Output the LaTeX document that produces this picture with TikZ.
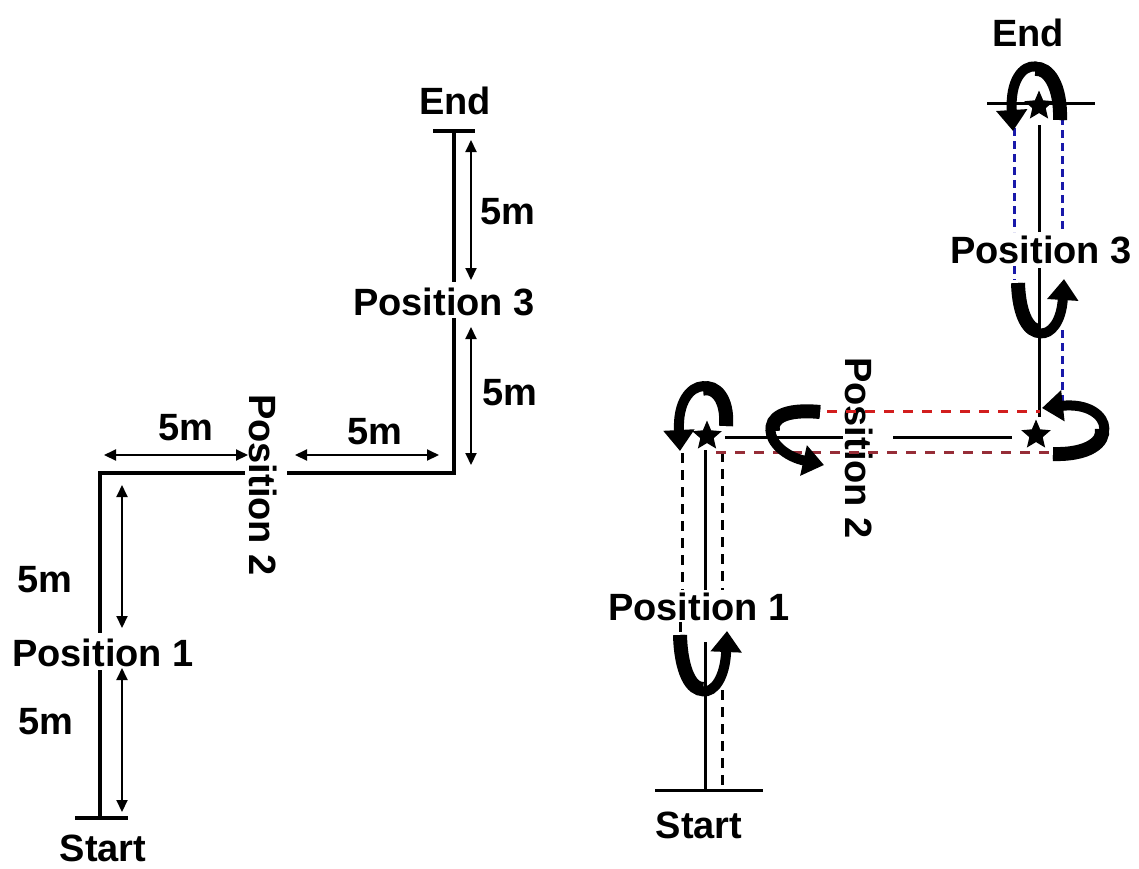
\documentclass[tikz,border=0pt]{standalone}
\usepackage{fontspec}
\setmainfont{Liberation Sans}
\usetikzlibrary{arrows.meta,shapes.geometric,calc}
\definecolor{redA}{RGB}{210,30,30}
\definecolor{redB}{RGB}{150,45,55}
\definecolor{blueA}{RGB}{25,25,170}
\newcommand{\tarrow}[4]{%
  \draw[line width=14pt] (#1) .. controls ($(#1)!0.5!(#2)$) and ($0.25*(#1)+0.5*(#2)+0.25*(#3)$) .. ($0.125*(#1)+0.375*(#2)+0.375*(#3)+0.125*(#4)$);
  \draw[uturn] (#1) .. controls (#2) and (#3) .. (#4);}
\begin{document}
\begin{tikzpicture}[x=1pt,y=-1pt,
  lbl/.style={font=\fontsize{38}{44}\selectfont\bfseries, inner sep=0pt},
  mainln/.style={line width=4pt},
  rln/.style={line width=3pt},
  dimarrow/.style={line width=2pt, {Triangle[width=11pt,length=12pt]}-{Triangle[width=11pt,length=12pt]}},
  blkdash/.style={line width=3pt, dash pattern=on 10pt off 7pt},
  reddash/.style={line width=3pt, dash pattern=on 10pt off 9pt},
  bluedash/.style={line width=3pt, draw=blueA, dash pattern=on 8pt off 5pt},
  uturn/.style={line width=10pt, -{Triangle[width=30pt,length=21pt]}},
  starnode/.style={star, star points=5, star point ratio=2.2, fill=black, minimum size=31pt, inner sep=0pt}
]
\useasboundingbox (0,0) rectangle (1139,868);
\fill[white] (0,0) rectangle (1139,868);

% ---------------- left diagram ----------------
\node[lbl] (LEnd) at (455,101) {End};
\node[lbl] (LP3) at (444,302) {Position 3};
\node[lbl,rotate=-90] (LP2) at (263,485) {Position 2};
\node[lbl] (LP1) at (103,653) {Position 1};
\node[lbl] (LStart) at (103,848) {Start};

\coordinate (LeT1) at (433,131); \coordinate (LeT2) at (475,131);
\coordinate (LeV) at (454,131);
\coordinate (L3a) at (454,282); \coordinate (L3b) at (454,318);
\coordinate (LC2) at (454,473);
\coordinate (L2a) at (287,473); \coordinate (L2b) at (245,473);
\coordinate (LC1) at (100,473);
\coordinate (L1a) at (100,633); \coordinate (L1b) at (100,670);
\coordinate (LsV) at (100,818);
\coordinate (LsT1) at (75,818); \coordinate (LsT2) at (128,818);

\draw[mainln] (LeT1) -- (LeT2);
\draw[mainln] (LeV) -- (L3a);
\draw[mainln] (L3b) -- (LC2) -- (L2a);
\draw[mainln] (L2b) -- (LC1) -- (L1a);
\draw[mainln] (L1b) -- (LsV);
\draw[mainln] (LsT1) -- (LsT2);

\coordinate (D1a) at (471,140); \coordinate (D1b) at (471,280);
\coordinate (D2a) at (471,327); \coordinate (D2b) at (471,465);
\coordinate (D3a) at (104,455); \coordinate (D3b) at (248,455);
\coordinate (D4a) at (295,455); \coordinate (D4b) at (439,455);
\coordinate (D5a) at (122,485); \coordinate (D5b) at (122,628);
\coordinate (D6a) at (122,668); \coordinate (D6b) at (122,812);
\draw[dimarrow] (D1a) -- (D1b);
\draw[dimarrow] (D2a) -- (D2b);
\draw[dimarrow] (D3a) -- (D3b);
\draw[dimarrow] (D4a) -- (D4b);
\draw[dimarrow] (D5a) -- (D5b);
\draw[dimarrow] (D6a) -- (D6b);

\node[lbl] (M1) at (508,212) {5m};
\node[lbl] (M2) at (510,393) {5m};
\node[lbl] (M3) at (186,428) {5m};
\node[lbl] (M4) at (375,432) {5m};
\node[lbl] (M5) at (45,580) {5m};
\node[lbl] (M6) at (46,722) {5m};

% ---------------- right diagram ----------------
\node[lbl] (REnd) at (1028,33) {End};
\node[lbl] (RP3) at (1041,250) {Position 3};
\node[lbl,rotate=-90] (RP2) at (859,448) {Position 2};
\node[lbl] (RP1) at (699,607) {Position 1};
\node[lbl] (RStart) at (699,825) {Start};

% ticks
\coordinate (RsT1) at (655,790); \coordinate (RsT2) at (763,790);
\coordinate (ReT1) at (987,103); \coordinate (ReT2) at (1095,103);
\draw[rln] (RsT1) -- (RsT2);
\draw[rln] (ReT1) -- (ReT2);

% solid path
\coordinate (Ra1) at (705,790); \coordinate (Ra2) at (705,642);
\coordinate (Ra3) at (705,590); \coordinate (Ra4) at (705,450);
\coordinate (Rb1) at (725,437); \coordinate (Rb2) at (843,437);
\coordinate (Rb3) at (893,437); \coordinate (Rb4) at (1012,437);
\coordinate (Rc1) at (1039,417); \coordinate (Rc2) at (1039,268);
\coordinate (Rc3) at (1039,232); \coordinate (Rc4) at (1039,125);
\draw[rln] (Ra1) -- (Ra2);
\draw[rln] (Ra3) -- (Ra4);
\draw[rln] (Rb1) -- (Rb2);
\draw[rln] (Rb3) -- (Rb4);
\draw[rln] (Rc1) -- (Rc2);
\draw[rln] (Rc3) -- (Rc4);

% black dashed outlines
\coordinate (K1) at (682,453); \coordinate (K2) at (682,590);
\coordinate (K3) at (680,622); \coordinate (K4) at (680,636);
\coordinate (K5) at (722,452); \coordinate (K6) at (722,590);
\coordinate (K7) at (722,690); \coordinate (K8) at (722,790);
\draw[blkdash] (K1) -- (K2);
\draw[blkdash] (K3) -- (K4);
\draw[blkdash] (K5) -- (K6);
\draw[blkdash] (K7) -- (K8);

% red dashed outlines
\coordinate (Q1) at (827,411); \coordinate (Q2) at (1040,411);
\coordinate (Q3) at (716,452); \coordinate (Q4) at (1053,452);
\draw[reddash,draw=redA] (Q1) -- (Q2);
\draw[reddash,draw=redB] (Q3) -- (Q4);

% blue dashed outlines
\coordinate (B1) at (1014,128); \coordinate (B2) at (1014,232);
\coordinate (B3) at (1014,266); \coordinate (B4) at (1014,280);
\coordinate (B5) at (1062,117); \coordinate (B6) at (1062,232);
\coordinate (B7) at (1062,330); \coordinate (B8) at (1062,402);
\draw[bluedash] (B1) -- (B2);
\draw[bluedash] (B3) -- (B4);
\draw[bluedash] (B5) -- (B6);
\draw[bluedash] (B7) -- (B8);

% stars
\node[starnode] (S1) at (707,436) {};
\node[starnode] (S2) at (1036,435) {};
\node[starnode] (S3) at (1039,106) {};

% turning arrows (tail thick, head end thinner)
\coordinate (A1s) at (726,426); \coordinate (A1p) at (730,372);
\coordinate (A1q) at (676,372); \coordinate (A1e) at (680,451);
\tarrow{A1s}{A1p}{A1q}{A1e}
\coordinate (A2s) at (820,412); \coordinate (A2p) at (748,405);
\coordinate (A2q) at (765,452); \coordinate (A2e) at (824,465);
\tarrow{A2s}{A2p}{A2q}{A2e}
\coordinate (A3s) at (1053,454); \coordinate (A3p) at (1125,456);
\coordinate (A3q) at (1115,400); \coordinate (A3e) at (1042,408);
\tarrow{A3s}{A3p}{A3q}{A3e}
\coordinate (A4s) at (1060,120); \coordinate (A4p) at (1062,50);
\coordinate (A4q) at (1008,50); \coordinate (A4e) at (1013,131);
\tarrow{A4s}{A4p}{A4q}{A4e}
\coordinate (A5s) at (1018,283); \coordinate (A5p) at (1020,350);
\coordinate (A5q) at (1060,345); \coordinate (A5e) at (1064,279);
\tarrow{A5s}{A5p}{A5q}{A5e}
\coordinate (A6s) at (680,635); \coordinate (A6p) at (682,710);
\coordinate (A6q) at (724,705); \coordinate (A6e) at (727,631);
\tarrow{A6s}{A6p}{A6q}{A6e}
\end{tikzpicture}
\end{document}
